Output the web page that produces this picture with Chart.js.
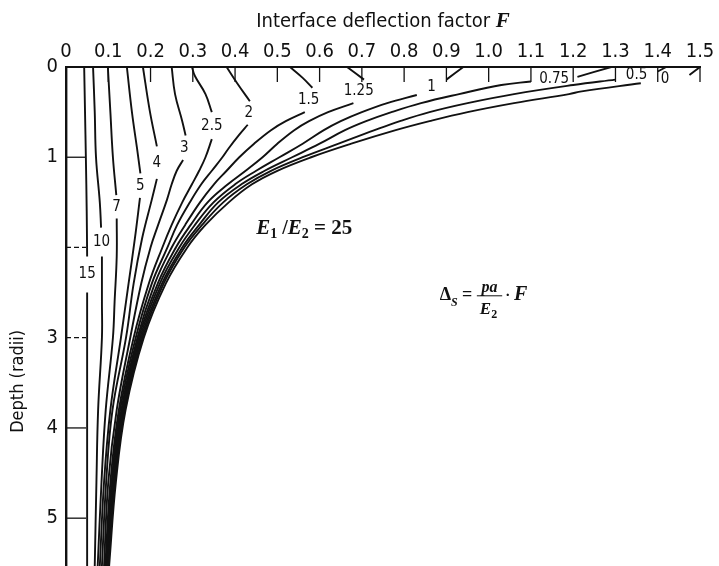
<!DOCTYPE html>
<html>
<head>
<meta charset="utf-8">
<script src="https://cdn.jsdelivr.net/npm/chart.js@4.4.1/dist/chart.umd.min.js"></script>
<style>
    html, body { margin: 0; background: #fff; }
</style>
</head>
<body>
<canvas id="chart" width="719" height="566"></canvas>
<script>
// Tick labels
const xTickLabels = ["0", "0.1", "0.2", "0.3", "0.4", "0.5", "0.6", "0.7", "0.8", "0.9", "1.0", "1.1", "1.2", "1.3", "1.4", "1.5"];
const yTickLabels = ["0", "1", "", "3", "4", "5"];

// Curve labels (r/a) - one per curve below
const curveLabels = ["0", "0.5", "0.75", "1", "1.25", "1.5", "2", "2.5", "3", "4", "5", "7", "10", "15"];

// [F, depth], null = gap where the label sits
const r0 = [[1.5, 0], [1.475, 0.09], null, [1.36, 0.18], [1.22, 0.27], [1.19, 0.3], [1.06, 0.4], [0.95, 0.5], [0.86, 0.6], [0.78, 0.7], [0.675, 0.85], [0.58, 1.0], [0.5, 1.15], [0.44, 1.3], [0.385, 1.5], [0.33, 1.75], [0.287, 2.0], [0.236, 2.4], [0.184, 3.0], [0.141, 3.8], [0.118, 4.6], [0.102, 5.53]];
const r05 = [[1.42, 0], [1.40, 0.05], null, [1.3, 0.14], [1.2, 0.2], [1.06, 0.3], [0.95, 0.4], [0.86, 0.5], [0.79, 0.6], [0.73, 0.7], [0.645, 0.85], [0.56, 1.0], [0.485, 1.15], [0.428, 1.3], [0.372, 1.5], [0.322, 1.75], [0.28, 2.0], [0.231, 2.4], [0.181, 3.0], [0.139, 3.8], [0.116, 4.6], [0.1, 5.53]];
const r075 = [[1.29, 0], [1.21, 0.11], null, [1.1, 0.16], [1.03, 0.2], [0.93, 0.3], [0.84, 0.4], [0.77, 0.5], [0.71, 0.6], [0.66, 0.7], [0.6, 0.85], [0.535, 1.0], [0.47, 1.15], [0.415, 1.3], [0.36, 1.5], [0.315, 1.75], [0.275, 2.0], [0.227, 2.4], [0.178, 3.0], [0.137, 3.8], [0.115, 4.6], [0.099, 5.53]];
const r1 = [[0.94, 0], [0.9, 0.14], null, [0.83, 0.31], [0.76, 0.4], [0.7, 0.5], [0.65, 0.6], [0.61, 0.7], [0.56, 0.85], [0.505, 1.0], [0.45, 1.15], [0.4, 1.3], [0.349, 1.5], [0.305, 1.75], [0.268, 2.0], [0.222, 2.4], [0.175, 3.0], [0.135, 3.8], [0.113, 4.6], [0.098, 5.53]];
const r125 = [[0.665, 0], [0.705, 0.14], null, [0.68, 0.4], [0.62, 0.5], [0.575, 0.6], [0.54, 0.7], [0.5, 0.85], [0.465, 1.0], [0.425, 1.15], [0.383, 1.3], [0.335, 1.5], [0.295, 1.75], [0.26, 2.0], [0.217, 2.4], [0.172, 3.0], [0.133, 3.8], [0.112, 4.6], [0.097, 5.53]];
const r15 = [[0.53, 0], [0.56, 0.12], [0.583, 0.23], null, [0.565, 0.5], [0.52, 0.6], [0.485, 0.7], [0.445, 0.85], [0.41, 1.0], [0.38, 1.15], [0.35, 1.3], [0.317, 1.5], [0.282, 1.75], [0.25, 2.0], [0.21, 2.4], [0.169, 3.0], [0.131, 3.8], [0.11, 4.6], [0.096, 5.53]];
const r2 = [[0.38, 0], [0.405, 0.18], [0.435, 0.38], null, [0.43, 0.64], [0.41, 0.75], [0.385, 0.9], [0.37, 1.0], [0.345, 1.15], [0.32, 1.3], [0.293, 1.5], [0.263, 1.75], [0.24, 2.0], [0.203, 2.4], [0.165, 3.0], [0.128, 3.8], [0.108, 4.6], [0.095, 5.53]];
const r25 = [[0.298, 0], [0.305, 0.1], [0.33, 0.3], [0.345, 0.5], null, [0.345, 0.8], [0.33, 1.0], [0.315, 1.15], [0.298, 1.3], [0.275, 1.5], [0.25, 1.75], [0.228, 2.0], [0.196, 2.4], [0.16, 3.0], [0.125, 3.8], [0.105, 4.6], [0.093, 5.53]];
const r3 = [[0.25, 0], [0.258, 0.3], [0.275, 0.6], [0.283, 0.76], null, [0.277, 1.03], [0.262, 1.15], [0.25, 1.3], [0.239, 1.47], [0.218, 1.75], [0.2, 2.0], [0.178, 2.4], [0.152, 3.0], [0.12, 3.8], [0.1, 4.6], [0.09, 5.53]];
const r4 = [[0.182, 0], [0.198, 0.48], [0.215, 0.88], null, [0.215, 1.24], [0.203, 1.47], [0.18, 1.9], [0.16, 2.4], [0.142, 3.0], [0.11, 3.8], [0.095, 4.6], [0.085, 5.53]];
const r5 = [[0.144, 0], [0.156, 0.5], [0.168, 0.9], [0.176, 1.18], null, [0.175, 1.45], [0.163, 1.9], [0.148, 2.4], [0.13, 3.0], [0.105, 3.8], [0.09, 4.6], [0.08, 5.53]];
const r7 = [[0.099, 0], [0.105, 0.5], [0.111, 1.0], [0.119, 1.42], null, [0.12, 1.68], [0.12, 2.1], [0.115, 2.6], [0.111, 3.0], [0.094, 3.8], [0.084, 4.6], [0.075, 5.53]];
const r10 = [[0.064, 0], [0.068, 0.5], [0.071, 1.0], [0.08, 1.5], [0.083, 1.78], null, [0.085, 2.1], [0.085, 2.6], [0.085, 3.0], [0.076, 3.8], [0.072, 4.6], [0.068, 5.53]];
const r15b = [[0.043, 0], [0.045, 0.5], [0.047, 1.0], [0.049, 1.6], [0.05, 2.1], null, [0.05, 2.5], [0.05, 3.5], [0.05, 4.5], [0.05, 5.53]];

const curves = [r0, r05, r075, r1, r125, r15, r2, r25, r3, r4, r5, r7, r10, r15b];

const SANS = '"Liberation Sans Narrow", "DejaVu Sans Condensed", "Liberation Sans", sans-serif';
const SERIF = '"Liberation Serif", "DejaVu Serif", serif';
const INK = "#111111";

/* =========================
        EXTRA DRAWING
========================= */
function drawRun(ctx, parts, x, y) {
    // parts: [text, font, dy]
    parts.forEach(p => {
        ctx.font = p[1];
        ctx.fillText(p[0], x, y + (p[2] || 0));
        x += ctx.measureText(p[0]).width;
    });
    return x;
}

const decorations = {
    id: "decorations",
    afterDatasetsDraw(chart) {
        const { ctx, chartArea, scales: { x, y } } = chart;
        ctx.save();
        ctx.strokeStyle = INK;
        ctx.fillStyle = INK;

        // inner tick marks
        ctx.lineWidth = 1.3;
        x.ticks.forEach(t => {
            if (t.value <= 0) return;
            const px = x.getPixelForValue(t.value);
            ctx.beginPath();
            ctx.moveTo(px, chartArea.top);
            ctx.lineTo(px, chartArea.top + 15);
            ctx.stroke();
        });
        y.ticks.forEach(t => {
            if (t.value <= 0) return;
            const py = y.getPixelForValue(t.value);
            ctx.setLineDash(t.value === 2 || t.value === 3 ? [5, 3] : []);
            ctx.beginPath();
            ctx.moveTo(chartArea.left, py);
            ctx.lineTo(chartArea.left + 20, py);
            ctx.stroke();
        });
        ctx.setLineDash([]);

        // curve labels in the gaps
        ctx.font = "15px " + SANS;
        ctx.textAlign = "center";
        ctx.textBaseline = "middle";
        chart.data.datasets.forEach(ds => {
            const i = ds.data.findIndex(p => p.x === null);
            if (i < 1) return;
            const a = ds.data[i - 1], b = ds.data[i + 1];
            ctx.fillText(ds.label,
                x.getPixelForValue((a.x + b.x) / 2),
                y.getPixelForValue((a.y + b.y) / 2));
        });

        // top axis title
        ctx.textAlign = "left";
        ctx.textBaseline = "alphabetic";
        const t1 = "Interface deflection factor ";
        ctx.font = "20px " + SANS;
        const w1 = ctx.measureText(t1).width;
        ctx.font = "italic bold 21px " + SERIF;
        const w2 = ctx.measureText("F").width;
        const cx = (chartArea.left + chartArea.right) / 2;
        drawRun(ctx, [[t1, "20px " + SANS], ["F", "italic bold 21px " + SERIF]], cx - (w1 + w2) / 2, 27);

        // left axis title
        ctx.save();
        ctx.translate(18, chartArea.top + (chartArea.bottom - chartArea.top) * 0.63);
        ctx.rotate(-Math.PI / 2);
        ctx.textAlign = "center";
        ctx.textBaseline = "middle";
        ctx.font = "18px " + SANS;
        ctx.fillText("Depth (radii)", 0, 0);
        ctx.restore();

        // E1/E2 = 25
        const it = "italic bold 21px " + SERIF;
        const sub = "bold 14px " + SERIF;
        drawRun(ctx, [
            ["E", it], ["1", sub, 4], [" /", "bold 20px " + SERIF],
            ["E", it], ["2", sub, 4], [" = 25", "bold 21px " + SERIF]
        ], x.getPixelForValue(0.45), y.getPixelForValue(1.85));

        // Delta_S = pa/E2 . F
        const bx = x.getPixelForValue(0.884);
        const by = y.getPixelForValue(2.58);
        let px = drawRun(ctx, [["\u0394", "bold 18px " + SERIF], ["S", "italic bold 12px " + SERIF, 6], [" = ", "bold 18px " + SERIF]], bx, by);
        ctx.font = "italic bold 16px " + SERIF;
        const wNum = ctx.measureText("pa").width;
        ctx.font = "italic bold 17px " + SERIF;
        const wDen = ctx.measureText("E").width + 8;
        const wf = Math.max(wNum, wDen) + 6;
        ctx.lineWidth = 1;
        ctx.beginPath();
        ctx.moveTo(px, by - 4);
        ctx.lineTo(px + wf, by - 4);
        ctx.stroke();
        ctx.font = "italic bold 16px " + SERIF;
        ctx.fillText("pa", px + (wf - wNum) / 2, by - 8);
        drawRun(ctx, [["E", "italic bold 17px " + SERIF], ["2", "bold 12px " + SERIF, 4]], px + (wf - wDen) / 2, by + 14);
        px += wf + 3;
        drawRun(ctx, [["\u00b7 ", "bold 15px " + SERIF], ["F", "italic bold 20px " + SERIF]], px, by);

        ctx.restore();
    }
};

/* =========================
        CHART
========================= */
const datasets = curves.map((pts, k) => ({
    label: curveLabels[k],
    data: pts.map(p => p ? { x: p[0], y: p[1] } : { x: null, y: null }),
    showLine: true,
    borderColor: INK,
    borderWidth: 1.9,
    pointRadius: 0,
    tension: 0.4,
    spanGaps: false,
    fill: false
}));

new Chart(document.getElementById("chart"), {
    type: "scatter",
    data: { datasets },
    options: {
        responsive: false,
        animation: false,
        layout: { padding: { left: 0, right: 19, top: 0, bottom: 0 } },
        plugins: { legend: { display: false }, tooltip: { enabled: false } },
        scales: {
            x: {
                type: "linear",
                position: "top",
                min: 0,
                max: 1.5,
                afterFit: s => { s.height = 67; s.paddingLeft = 0; s.paddingRight = 0; },
                grid: { display: false, drawTicks: false },
                border: { color: INK, width: 2 },
                ticks: {
                    stepSize: 0.1,
                    autoSkip: false,
                    maxRotation: 0,
                    padding: 3,
                    color: INK,
                    font: { family: SANS, size: 20 },
                    callback: v => xTickLabels[Math.round(v * 10)] ?? ""
                }
            },
            y: {
                type: "linear",
                reverse: true,
                min: 0,
                max: 5.53,
                afterFit: s => { s.width = 66; s.paddingTop = 0; s.paddingBottom = 0; },
                grid: { display: false, drawTicks: false },
                border: { color: INK, width: 2.4 },
                ticks: {
                    stepSize: 1,
                    includeBounds: false,
                    autoSkip: false,
                    padding: 8,
                    color: INK,
                    font: { family: SANS, size: 20 },
                    callback: v => yTickLabels[Math.round(v)] ?? ""
                }
            }
        }
    },
    plugins: [decorations]
});
</script>
</body>
</html>
